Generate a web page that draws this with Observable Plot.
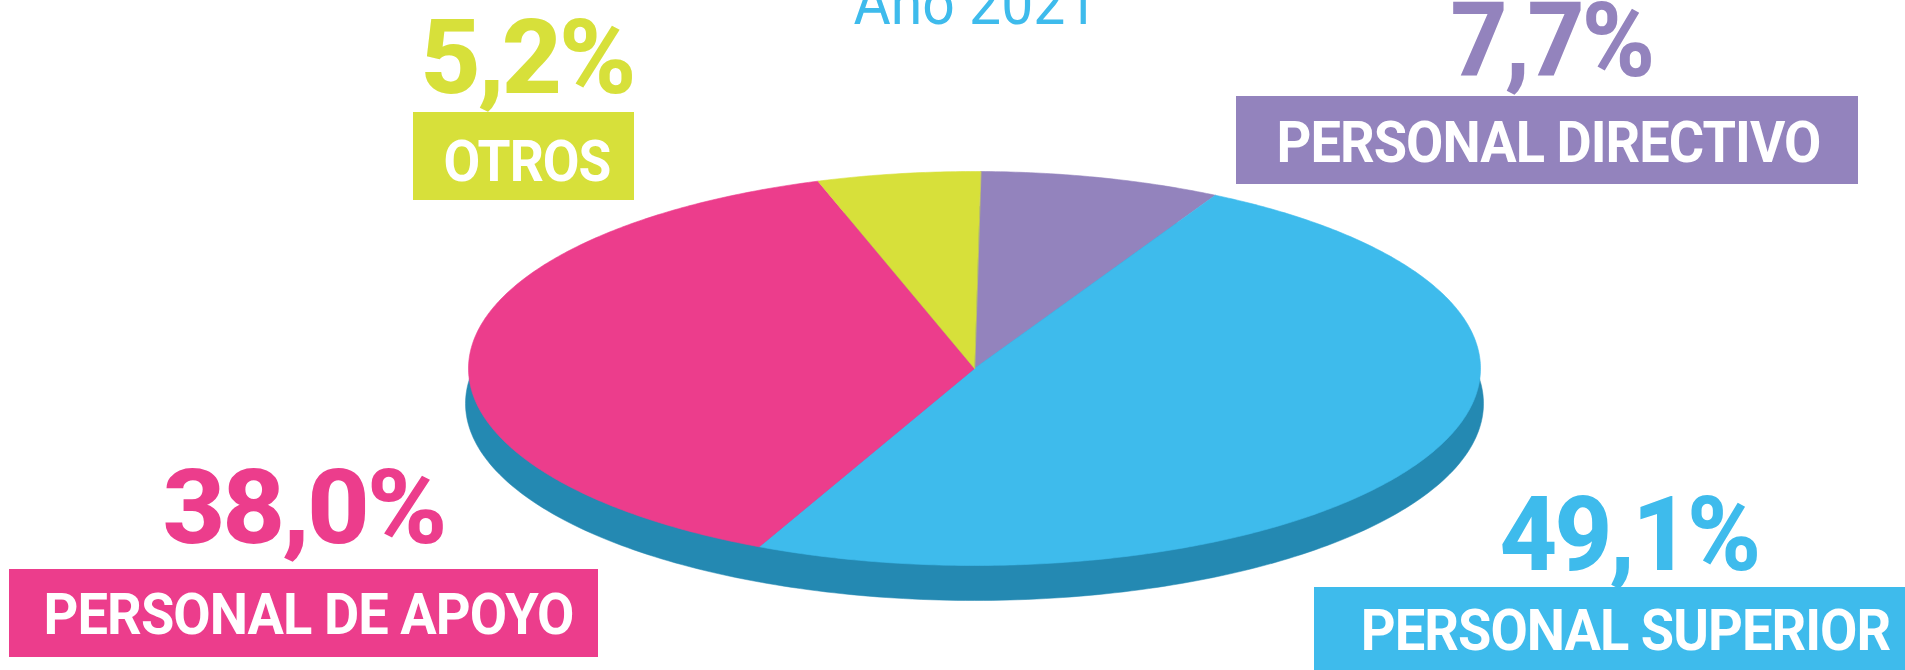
<!DOCTYPE html>
<html>
<head>
<meta charset="utf-8">
<script src="https://cdn.jsdelivr.net/npm/d3@7"></script>
<script src="https://cdn.jsdelivr.net/npm/@observablehq/plot@0.6"></script>
<style>
  html, body { margin: 0; padding: 0; background: #ffffff; overflow: hidden; }
  #chart svg { display: block; }
</style>
</head>
<body>
<div id="chart"></div>
<script>
// ---- data ----
const title = "Año 2021";
const categories = ["PERSONAL DIRECTIVO", "PERSONAL SUPERIOR", "PERSONAL DE APOYO", "OTROS"];
const values = [7.7, 49.1, 38.0, 5.2];
const colors = ["#9383bd", "#3ebbec", "#ec3d8c", "#d7e03a"];

// ---- layout (pixels) ----
const W = 1905, H = 670;
const pie3d = {cx: 974, cy: 368, rx: 506, ry: 197, depth: 35, sideRx: 509, side: "#2489b2", startDeg: 0.7};
const labelLayout = {
  "OTROS":              {boxX: 523.5, boxTop: 112, boxW: 221, pctX: 526.5, pctBase: 92,  pctW: 213, nameX: 526.5, nameBase: 180, nameW: 167},
  "PERSONAL DIRECTIVO": {boxX: 1547,  boxTop: 96,  boxW: 622, pctX: 1551,  pctBase: 75,  pctW: 202, nameX: 1548,  nameBase: 161, nameW: 544},
  "PERSONAL DE APOYO":  {boxX: 303.5, boxTop: 569, boxW: 589, pctX: 303,   pctBase: 542, pctW: 282, nameX: 308,   nameBase: 633, nameW: 530},
  "PERSONAL SUPERIOR":  {boxX: 1625,  boxTop: 587, boxW: 622, pctX: 1628.5,pctBase: 569, pctW: 259, nameX: 1625,  nameBase: 649, nameW: 530}
};
const boxH = 88;
const titleLayout = {x: 975, base: 23, w: 244};

// ---- derived geometry ----
const rows = categories.map((c, i) => ({cat: c, value: values[i]}));
const start = pie3d.startDeg * Math.PI / 180;
const arcs = d3.pie().sort(null).value(d => d.value).startAngle(start).endAngle(start + 2 * Math.PI)(rows);

const slicePts = [];
for (const a of arcs) {
  const cat = a.data.cat;
  slicePts.push({cat, x: pie3d.cx, y: pie3d.cy});
  const n = Math.max(8, Math.ceil((a.endAngle - a.startAngle) / 0.01));
  for (let k = 0; k <= n; k++) {
    const t = a.startAngle + (a.endAngle - a.startAngle) * k / n;
    slicePts.push({cat, x: pie3d.cx + pie3d.rx * Math.sin(t), y: pie3d.cy - pie3d.ry * Math.cos(t)});
  }
}
const sidePts = d3.range(0, 361, 1).map(deg => {
  const t = deg * Math.PI / 180;
  return {x: pie3d.cx + pie3d.sideRx * Math.sin(t), y: pie3d.cy + pie3d.depth - pie3d.ry * Math.cos(t)};
});

const fmt = v => v.toFixed(1).replace(".", ",") + "%";
const labelRows = rows.map(r => ({...r, ...labelLayout[r.cat], pct: fmt(r.value)}));

const font = "Roboto, 'Open Sans', sans-serif";

const chart = Plot.plot({
  width: W, height: H,
  margin: 0,
  x: {domain: [0, W], range: [0, W], axis: null},
  y: {domain: [0, H], range: [0, H], axis: null},
  color: {domain: categories, range: colors},
  marks: [
    Plot.line(sidePts, {x: "x", y: "y", fill: pie3d.side, stroke: pie3d.side, strokeWidth: 0.5, curve: "linear-closed"}),
    Plot.line(slicePts, {x: "x", y: "y", z: "cat", fill: "cat", stroke: "cat", strokeWidth: 0.6, curve: "linear-closed"}),
    Plot.rect(labelRows, {x1: d => d.boxX - d.boxW / 2, x2: d => d.boxX + d.boxW / 2, y1: d => d.boxTop, y2: d => d.boxTop + boxH, fill: "cat"}),
    Plot.text([title], {x: () => titleLayout.x, y: () => titleLayout.base, text: d => d, lineAnchor: "bottom",
      fontSize: 62, fontFamily: font, fontWeight: 400, fill: "#3ebbec"}),
    Plot.text(labelRows, {x: "pctX", y: "pctBase", text: "pct", fill: "cat", lineAnchor: "bottom",
      fontSize: 104, fontWeight: 800, fontFamily: font}),
    Plot.text(labelRows, {x: "nameX", y: "nameBase", text: "cat", fill: "#ffffff", lineAnchor: "bottom",
      fontSize: 57, fontWeight: 700, fontFamily: font})
  ]
});

document.getElementById("chart").appendChild(chart);

// condense lettering horizontally to the reference's widths (scale about the text anchor)
function condense(group, widthOf, spacing) {
  d3.select(group).selectAll("text").each(function(i) {
    this.setAttribute("letter-spacing", spacing);
    const target = widthOf(i);
    const w = this.getBBox().width;
    if (!w) return;
    const sx = target / w;
    const x = +(this.getAttribute("x") || 0), y = +(this.getAttribute("y") || 0);
    const tr = this.getAttribute("transform") || "";
    this.setAttribute("transform", `${tr} translate(${x},${y}) scale(${sx},1) translate(${-x},${-y})`);
  });
}
const textGroups = chart.querySelectorAll('g[aria-label="text"]');
condense(textGroups[0], () => titleLayout.w, "0");
condense(textGroups[1], i => labelRows[i].pctW, "-3");
condense(textGroups[2], i => labelRows[i].nameW, "-1");
</script>
</body>
</html>
